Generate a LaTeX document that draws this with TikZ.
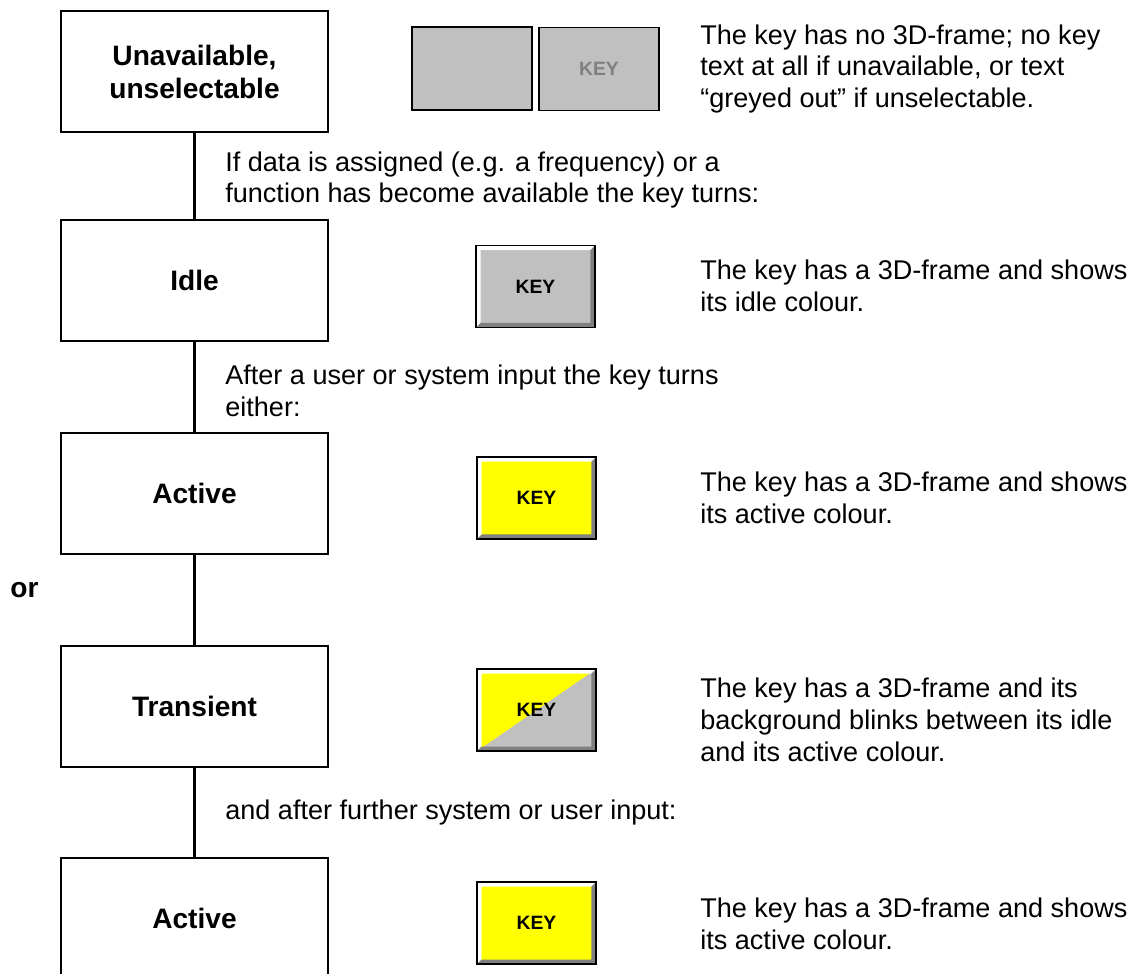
\documentclass[tikz,border=0pt]{standalone}
\usepackage{fontspec}
\setmainfont{Liberation Sans}
\usetikzlibrary{positioning,calc}
\definecolor{keygray}{HTML}{C0C0C0}
\definecolor{keyshade}{HTML}{808080}
\definecolor{keyyellow}{HTML}{FFFF00}
% 3D frame of a key: light edge top/left, dark edge bottom/right
\newcommand{\keybevel}{%
	\fill[white] (path picture bounding box.north west) -- (path picture bounding box.north east)
		-- ([shift={(-0.09cm,-0.09cm)}]path picture bounding box.north east)
		-- ([shift={(0.09cm,-0.09cm)}]path picture bounding box.north west)
		-- ([shift={(0.09cm,0.09cm)}]path picture bounding box.south west)
		-- (path picture bounding box.south west) -- cycle;
	\fill[keyshade] (path picture bounding box.south east) -- (path picture bounding box.north east)
		-- ([shift={(-0.09cm,-0.09cm)}]path picture bounding box.north east)
		-- ([shift={(-0.09cm,0.09cm)}]path picture bounding box.south east)
		-- ([shift={(0.09cm,0.09cm)}]path picture bounding box.south west)
		-- (path picture bounding box.south west) -- cycle;}
\tikzset{%
	statebox/.style  = {draw, line width=1.6pt, minimum width=5.34cm, minimum height=2.42cm, align=center, font=\fontsize{16}{18.8}\selectfont\bfseries},
	keyflat/.style   = {draw, line width=1.1pt, fill=keygray, minimum width=2.4cm, minimum height=1.66cm, inner sep=0pt, font=\fontsize{11}{13}\selectfont\bfseries},
	keyraised/.style = {keyflat, minimum width=2.38cm, minimum height=1.64cm, path picture={\keybevel}},
	keyactive/.style = {keyraised, fill=keyyellow},
	keyblink/.style  = {keyraised, path picture={\fill[keyyellow] (path picture bounding box.south west) -- (path picture bounding box.north west) -- (path picture bounding box.north east) -- cycle; \keybevel}},
	note/.style      = {anchor=west, inner sep=0pt, align=left, font=\fontsize{15.4}{18.2}\selectfont},
	link/.style      = {line width=1.4pt},
}
\begin{document}
\begin{tikzpicture}[x=0.02cm,y=-0.02cm]
	\useasboundingbox (0,0) rectangle (1137,974);
	
	% states
	\node[statebox] (unavail) at (194.5,71.5)  {Unavailable,\\unselectable};
	\node[statebox] (idle)    at (194.5,280.5) {Idle};
	\node[statebox] (active)  at (194.5,493.5) {Active};
	\node[statebox] (blink)   at (194.5,706.5) {Transient};
	\node[statebox] (again)   at (194.5,918.5) {Active};
	\draw[link] (unavail) -- (idle);
	\draw[link] (idle) -- (active);
	\draw[link] (active) -- (blink);
	\draw[link] (blink) -- (again);
	
	% keys
	\node[keyflat] (keynone) at (472,68.5) {};
	\node[keyflat, text=keyshade] (keygrey) at (599,69) {KEY};
	\node[keyraised] (keyidle)   at (535.5,286.5) {KEY};
	\node[keyactive] (keyactive) at (536.5,498)   {KEY};
	\node[keyblink]  (keyblink)  at (536.5,710)   {KEY};
	\node[keyactive] (keyagain)  at (536.5,923)   {KEY};
	
	% transitions
	\node[note] (ifdata) at (225,180) {If data is assigned (e.g. a frequency) or a\\function has become available the key turns:};
	\node[note] (after)  at (225,391) {After a user or system input the key turns\\either:};
	\node[note] (further) at (225,812) {and after further system or user input:};
	\node[note, font=\fontsize{16}{18.2}\selectfont\bfseries] (or) at (10,590) {or};
	
	% descriptions
	\node[note] (descnone)   at (700,69)  {The key has no 3D-frame; no key\\text at all if unavailable, or text\\“greyed out” if unselectable.};
	\node[note] (descidle)   at (700,286) {The key has a 3D-frame and shows\\its idle colour.};
	\node[note] (descactive) at (700,498) {The key has a 3D-frame and shows\\its active colour.};
	\node[note] (descblink)  at (700,720) {The key has a 3D-frame and its\\background blinks between its idle\\and its active colour.};
	\node[note] (descagain)  at (700,924) {The key has a 3D-frame and shows\\its active colour.};
\end{tikzpicture}
\end{document}
